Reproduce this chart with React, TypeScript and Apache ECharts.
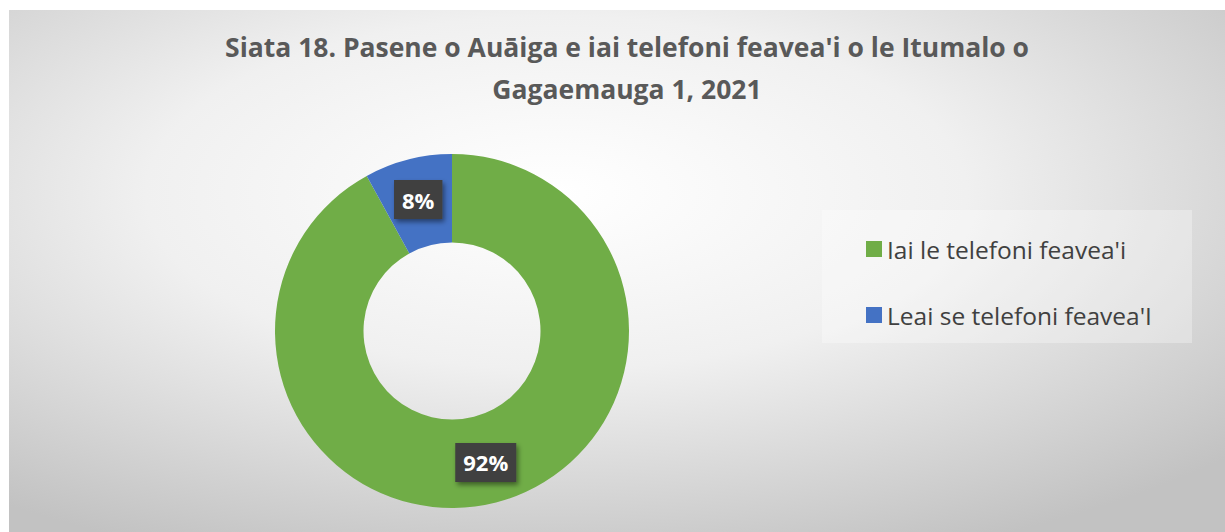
import React, { useEffect, useRef } from "react";
import * as echarts from "echarts";

const titleLines = ["Siata 18. Pasene o Auāiga e iai telefoni feavea'i o le Itumalo o", "Gagaemauga 1, 2021"];
const categories = ["Iai le telefoni feavea'i", "Leai se telefoni feavea'I"];
const values = [92, 8];
const colors = ["#70AD47", "#4472C4"];

export default function App() {
  const ref = useRef<HTMLDivElement>(null);
  useEffect(() => {
    document.body.style.margin = "0";
    document.body.style.overflow = "hidden";
    const chart = echarts.init(ref.current!, undefined, { renderer: "svg" });
    const font = "Open Sans";
    chart.setOption({
      animation: false,
      backgroundColor: {
        type: "radial",
        x: 0.45,
        y: 0.35,
        r: 0.75,
        colorStops: [
          { offset: 0, color: "#ffffff" },
          { offset: 0.45, color: "#f0f0f0" },
          { offset: 1, color: "#c2c2c2" },
        ],
      },
      title: {
        text: titleLines.join("\n"),
        left: 613,
        top: 11,
        textAlign: "center",
        textStyle: {
          fontFamily: font,
          fontSize: 26.5,
          fontWeight: "bold",
          color: "#595959",
          lineHeight: 42,
        },
      },
      graphic: [
        {
          type: "rect",
          shape: { x: 813, y: 200, width: 370, height: 133 },
          style: { fill: "rgba(255,255,255,0.3)" },
          z: 0,
        },
      ],
      legend: {
        orient: "vertical",
        left: 852,
        top: 219,
        itemWidth: 16,
        itemHeight: 16,
        itemGap: 36,
        icon: "rect",
        textStyle: { fontFamily: font, fontSize: 24.5, color: "#404040", lineHeight: 30 },
        data: categories,
      },
      series: [
        {
          type: "pie",
          center: [443, 321],
          radius: [88.5, 177],
          startAngle: 90,
          clockwise: true,
          label: {
            show: true,
            position: "inside",
            formatter: "{d}%",
            fontFamily: font,
            fontSize: 22,
            fontWeight: "bold",
            color: "#ffffff",
            backgroundColor: "#404040",
            padding: [9, 8, 8, 8],
            shadowColor: "rgba(0,0,0,0.45)",
            shadowBlur: 5,
            shadowOffsetX: 2,
            shadowOffsetY: 3,
          },
          labelLine: { show: false },
          emphasis: { disabled: true },
          data: categories.map((c, i) => ({ name: c, value: values[i], itemStyle: { color: colors[i] } })),
        },
      ],
    });
    return () => chart.dispose();
  }, []);
  return (
    <div
      ref={ref}
      style={{ position: "absolute", left: 9, top: 10, width: 1216, height: 522 }}
    />
  );
}
